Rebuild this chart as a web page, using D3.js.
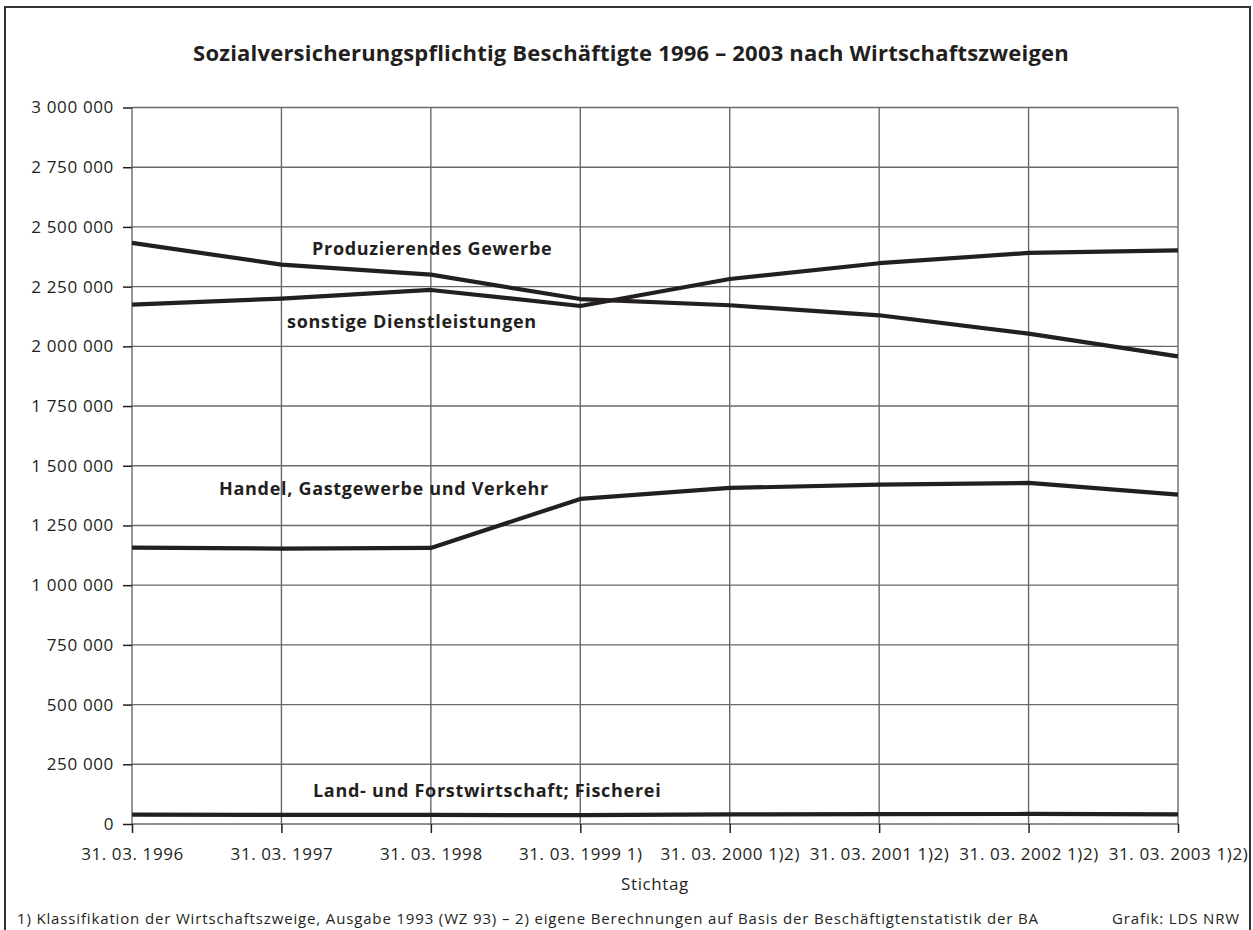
<!DOCTYPE html>
<html><head><meta charset="utf-8">
<script src="https://cdn.jsdelivr.net/npm/d3@7"></script>
<style>
html,body{margin:0;padding:0;background:#fff;}
svg{display:block;font-family:"Open Sans","Noto Sans",sans-serif;}
</style></head>
<body>
<svg id="chart" width="1253" height="930"></svg>
<script>
const categories = ["31. 03. 1996","31. 03. 1997","31. 03. 1998","31. 03. 1999 1)","31. 03. 2000 1)2)","31. 03. 2001 1)2)","31. 03. 2002 1)2)","31. 03. 2003 1)2)"];
const produzierend = [2433000, 2342000, 2300000, 2198000, 2172000, 2130000, 2053000, 1958000];
const sonstige     = [2175000, 2200000, 2236000, 2169000, 2282000, 2348000, 2391000, 2402000];
const handel       = [1157000, 1153000, 1156000, 1361000, 1407000, 1421000, 1428000, 1379000];
const land         = [39000, 38000, 38000, 37000, 40000, 41000, 42000, 40000];
const yTicks = [0,250000,500000,750000,1000000,1250000,1500000,1750000,2000000,2250000,2500000,2750000,3000000];
const seriesNames = ["Produzierendes Gewerbe","sonstige Dienstleistungen","Handel, Gastgewerbe und Verkehr","Land- und Forstwirtschaft; Fischerei"];
const title = "Sozialversicherungspflichtig Beschäftigte 1996 – 2003 nach Wirtschaftszweigen";
const xTitle = "Stichtag";
const footnote = "1) Klassifikation der Wirtschaftszweige, Ausgabe 1993 (WZ 93) – 2) eigene Berechnungen auf Basis der Beschäftigtenstatistik der BA";
const credit = "Grafik: LDS NRW";

const svg = d3.select("#chart");
const ink = "#231f20";
const grid = "#6a6a6a";

// outer frame
svg.append("rect").attr("x",5).attr("y",7).attr("width",1245).attr("height",940)
  .attr("fill","none").attr("stroke","#333").attr("stroke-width",2);

const x = d3.scalePoint().domain(categories).range([132,1178]);
const y = d3.scaleLinear().domain([0,3000000]).range([824,107.5]);

const fmt = v => d3.format(",")(v).replace(/,/g," ");

// horizontal grid
svg.append("g").selectAll("line").data(yTicks).join("line")
  .attr("x1",132).attr("x2",1178).attr("y1",d=>y(d)).attr("y2",d=>y(d))
  .attr("stroke",grid).attr("stroke-width",1.4);
// vertical grid
svg.append("g").selectAll("line").data(categories).join("line")
  .attr("x1",d=>x(d)).attr("x2",d=>x(d)).attr("y1",y(3000000)).attr("y2",y(0))
  .attr("stroke",grid).attr("stroke-width",1.4);

// y axis
const yAxis = d3.axisLeft(y).tickValues(yTicks).tickFormat(fmt).tickSize(9).tickPadding(9);
const gy = svg.append("g").attr("transform","translate(132,0)").call(yAxis);
gy.select(".domain").remove();
gy.selectAll(".tick line").attr("stroke",ink).attr("stroke-width",1.5);
gy.selectAll(".tick text").attr("font-size",17).attr("letter-spacing",0.65).attr("fill",ink)
  .attr("font-family","'Open Sans',sans-serif");

// x axis
const xAxis = d3.axisBottom(x).tickSize(9).tickPadding(15);
const gx = svg.append("g").attr("transform","translate(0,824)").call(xAxis);
gx.select(".domain").remove();
gx.selectAll(".tick line").attr("stroke",ink).attr("stroke-width",1.5);
gx.selectAll(".tick text").attr("font-size",17).attr("letter-spacing",0.6).attr("fill",ink)
  .attr("font-family","'Open Sans',sans-serif");

// lines
const line = d3.line().x((d,i)=>x(categories[i])).y(d=>y(d));
[produzierend, sonstige, handel, land].forEach(s=>{
  svg.append("path").datum(s).attr("d",line).attr("fill","none")
    .attr("stroke",ink).attr("stroke-width",4.2).attr("stroke-linejoin","round");
});

// series labels
const labels = [
  {t:seriesNames[0], x:312, y:255},
  {t:seriesNames[1], x:287, y:328},
  {t:seriesNames[2], x:219, y:495},
  {t:seriesNames[3], x:313, y:797}
];
svg.append("g").selectAll("text").data(labels).join("text")
  .attr("x",d=>d.x).attr("y",d=>d.y).text(d=>d.t)
  .attr("font-size",18).attr("letter-spacing",0.7).attr("font-weight","bold").attr("fill",ink);

// title
svg.append("text").attr("x",631).attr("y",61).attr("text-anchor","middle")
  .attr("font-size",22).attr("letter-spacing",0.2).attr("font-weight","bold").attr("fill",ink).text(title);

// x title
svg.append("text").attr("x",655).attr("y",890).attr("text-anchor","middle")
  .attr("font-size",17).attr("letter-spacing",0.6).attr("fill",ink).text(xTitle);

// footnote
svg.append("text").attr("x",17).attr("y",924).attr("font-size",15).attr("letter-spacing",0.85).attr("fill",ink).text(footnote);
svg.append("text").attr("x",1240).attr("y",924).attr("text-anchor","end").attr("font-size",15).attr("letter-spacing",0.85).attr("fill",ink).text(credit);
</script>
</body></html>
